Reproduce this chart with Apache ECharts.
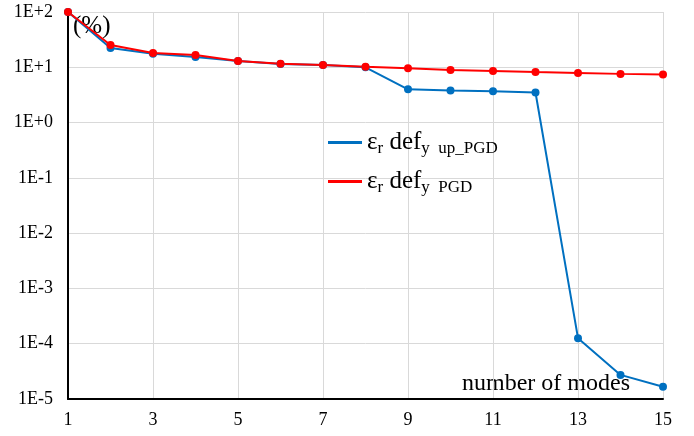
<!DOCTYPE html>
<html>
<head>
<meta charset="utf-8">
<script src="https://cdn.jsdelivr.net/npm/echarts@6/dist/echarts.min.js"></script>
<style>
  html, body { margin: 0; padding: 0; background: #fff; }
  #chart { width: 694px; height: 436px; }
</style>
</head>
<body>
<div id="chart"></div>
<script>
// modes 1..15
var modes = [1, 2, 3, 4, 5, 6, 7, 8, 9, 10, 11, 12, 13, 14, 15]
var errUpPGD = [100, 22.3, 17.5, 15.3, 13, 11.5, 11, 10, 4.0, 3.8, 3.7, 3.5, 1.26e-4, 2.73e-5, 1.67e-5]
var errPGD = [100, 25.3, 18.1, 16.7, 13, 11.6, 11, 10.2, 9.6, 8.9, 8.6, 8.2, 7.9, 7.6, 7.4]

var serif = 'Liberation Serif'
var chart = echarts.init(document.getElementById('chart'))

function pairs(ys) {
  return modes.map(function (m, i) { return [m, ys[i]] })
}

var rich = {
  big: { fontFamily: serif, fontSize: 25, color: '#000' },
  sub: { fontFamily: serif, fontSize: 17, color: '#000', padding: [12, 0, 0, 0] }
}

chart.setOption({
  animation: false,
  grid: { left: 68, right: 31, top: 12, bottom: 37 },
  legend: {
    orient: 'vertical',
    left: 323,
    top: 125,
    itemGap: 12,
    itemWidth: 34,
    itemHeight: 3,
    data: [
      { name: 'up', icon: 'rect' },
      { name: 'pgd', icon: 'rect' }
    ],
    formatter: function (name) {
      if (name === 'up') return '{big|ε}{sub|r}{big| def}{sub|y  up_PGD}'
      return '{big|ε}{sub|r}{big| def}{sub|y  PGD}'
    },
    textStyle: { rich: rich }
  },
  xAxis: {
    type: 'value',
    min: 1,
    max: 15,
    interval: 2,
    axisLine: { lineStyle: { color: '#000', width: 2 } },
    axisTick: { show: false },
    splitLine: { lineStyle: { color: '#d9d9d9' } },
    axisLabel: { fontFamily: serif, fontSize: 18, color: '#000', margin: 12 }
  },
  yAxis: {
    type: 'log',
    logBase: 10,
    min: 1e-5,
    max: 100,
    axisLine: { show: true, lineStyle: { color: '#000', width: 2 } },
    axisTick: { show: false },
    splitLine: { lineStyle: { color: '#d9d9d9' } },
    axisLabel: {
      fontFamily: serif, fontSize: 18, color: '#000', margin: 15,
      formatter: function (v) {
        var e = Math.round(Math.log10(v))
        return '1E' + (e >= 0 ? '+' : '') + e
      }
    }
  },
  graphic: [
    { type: 'text', left: 73, top: 14, style: { text: '(%)', fontFamily: serif, fontSize: 25, fill: '#000' } },
    { type: 'text', left: 462, top: 372, style: { text: 'number of modes', fontFamily: serif, fontSize: 24, fill: '#000' } }
  ],
  series: [
    {
      name: 'up', type: 'line', data: pairs(errUpPGD),
      color: '#0070C0', symbol: 'circle', symbolSize: 8,
      lineStyle: { width: 2 }
    },
    {
      name: 'pgd', type: 'line', data: pairs(errPGD),
      color: '#FF0000', symbol: 'circle', symbolSize: 8,
      lineStyle: { width: 2 }
    }
  ]
})
</script>
</body>
</html>
